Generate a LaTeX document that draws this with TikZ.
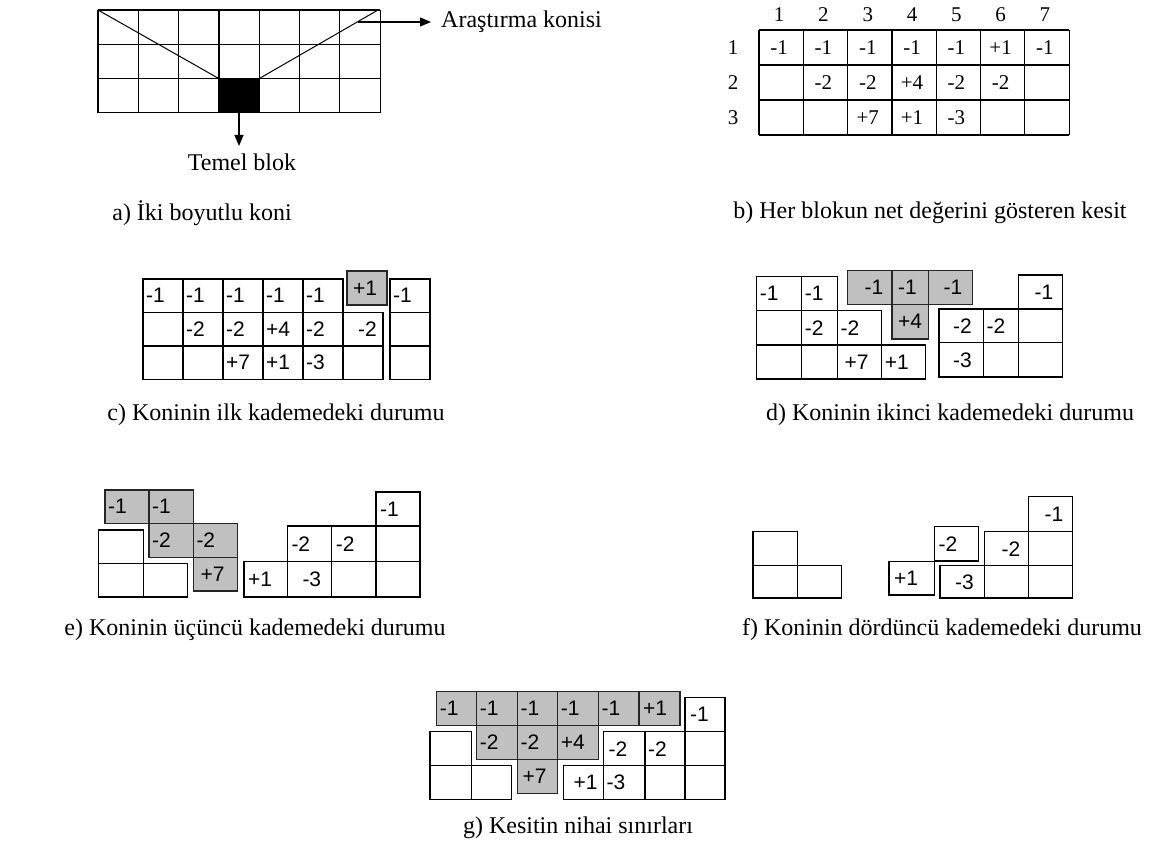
\documentclass[tikz,border=0pt]{standalone}
\usepackage{fontspec}
\setmainfont{Liberation Serif}
\newfontfamily\cellfont{Liberation Sans}
\usetikzlibrary{arrows.meta}
\definecolor{cellgrey}{HTML}{C0C0C0}
\newcommand\whitecell[6]{\draw[cl,fill=white] ({#1},{#2}) rectangle ({#3},{#4});
  \node[num] at ({#1+#6},{(#2+#4)/2}) {#5};}
\newcommand\greycell[6]{\draw[gcl] ({#1},{#2}) rectangle ({#3},{#4});
  \node[num] at ({#1+#6},{(#2+#4)/2}) {#5};}
\begin{document}
\begin{tikzpicture}[x=1pt,y=-1pt,
  cl/.style={draw=black,line width=1.2pt},
  gcl/.style={draw=black!85,line width=1.5pt,fill=cellgrey},
  gridline/.style={draw=black,line width=1.2pt},
  num/.style={anchor=west,inner sep=0pt,font=\cellfont\fontsize{21}{21}\selectfont},
  bnum/.style={inner sep=0pt,font=\fontsize{21}{21}\selectfont},
  captxt/.style={inner sep=0pt,font=\fontsize{24}{24}\selectfont},
  lbl/.style={inner sep=0pt,font=\fontsize{24}{24}\selectfont},
  arr/.style={line width=1.2pt,-{Triangle[length=11pt,width=9pt]}}]
\useasboundingbox (0,0) rectangle (1156,858);

% ---------------- a) ----------------
\fill (218.9,78.6) rectangle (259.2,112.9);
\foreach \i in {0,...,7} {\draw[gridline] ({98+\i*40.3},10) -- ({98+\i*40.3},112.9);}
\foreach \j in {0,...,3} {\draw[gridline] (98,{10+\j*34.3}) -- (380.1,{10+\j*34.3});}
\coordinate (tl) at (98,10);
\coordinate (tr) at (378,10);
\coordinate (bl) at (218.9,78.6);
\coordinate (br) at (259.2,78.6);
\draw[line width=1pt] (tl) -- (bl);
\draw[line width=1pt] (br) -- (tr);
\coordinate (ap) at (358.3,22);
\node[lbl,anchor=west] (cone) at (441,22) {Araştırma konisi};
\draw[arr,shorten >=10pt] (ap) -- (cone.west);
\coordinate (bb) at (239,112.9);
\coordinate (bt) at (239,146);
\node[lbl] (base) at (242,162) {Temel blok};
\draw[arr] (bb) -- (bt);
\node[captxt] (capa) at (202,213) {a) İki boyutlu koni};

% ---------------- b) ----------------
\foreach \k in {1,...,7} {\node[bnum] at ({759+44.3*(\k-0.5)-2},15) {\k};}
\foreach \r in {1,2,3} {\node[bnum] at (733,{30+35*(\r-0.5)}) {\r};}
\foreach \i in {0,...,7} {\draw[gridline] ({759+\i*44.3},30) -- ({759+\i*44.3},135);}
\foreach \j in {0,...,3} {\draw[gridline] (759,{30+\j*35}) -- (1069.1,{30+\j*35});}
\foreach \c/\v in {1/-1,2/-1,3/-1,4/-1,5/-1,6/+1,7/-1}
  {\node[bnum] at ({759+44.3*(\c-0.5)-2},48) {\v};}
\foreach \c/\v in {2/-2,3/-2,4/+4,5/-2,6/-2}
  {\node[bnum] at ({759+44.3*(\c-0.5)-2},83) {\v};}
\foreach \c/\v in {3/+7,4/+1,5/-3}
  {\node[bnum] at ({759+44.3*(\c-0.5)-2},118) {\v};}
\node[captxt] (capb) at (930,213) {b) Her blokun net değerini gösteren kesit};

% ---------------- c) ----------------
\foreach \c in {1,...,5}
  {\whitecell{143+40*(\c-1)}{279}{143+40*\c}{312.5}{-1}{3}}
\whitecell{143}{312.5}{183}{346}{}{0}
\whitecell{183}{312.5}{223}{346}{-2}{3}
\whitecell{223}{312.5}{263}{346}{-2}{3}
\whitecell{263}{312.5}{303}{346}{+4}{3}
\whitecell{303}{312.5}{343}{346}{-2}{3}
\whitecell{343}{312.5}{383}{346}{-2}{15}
\whitecell{143}{346}{183}{379.5}{}{0}
\whitecell{183}{346}{223}{379.5}{}{0}
\whitecell{223}{346}{263}{379.5}{+7}{3}
\whitecell{263}{346}{303}{379.5}{+1}{3}
\whitecell{303}{346}{343}{379.5}{-3}{3}
\whitecell{343}{346}{383}{379.5}{}{0}
\greycell{347}{271}{387}{305}{+1}{6}
\whitecell{390}{279}{430}{312.5}{-1}{3}
\whitecell{390}{312.5}{430}{346}{}{0}
\whitecell{390}{346}{430}{379.5}{}{0}
\node[captxt] (capc) at (276,415) {c) Koninin ilk kademedeki durumu};

% ---------------- d) ----------------
\whitecell{756.7}{276.7}{801.7}{310.5}{-1}{3}
\whitecell{801.7}{276.7}{837.5}{310.5}{-1}{3}
\whitecell{756.7}{310.5}{801.7}{345}{}{0}
\whitecell{801.7}{310.5}{837.5}{345}{-2}{3}
\whitecell{837.5}{310.5}{881.7}{345}{-2}{3}
\whitecell{756.7}{345}{801.7}{379}{}{0}
\whitecell{801.7}{345}{837.5}{379}{}{0}
\whitecell{837.5}{345}{881.7}{379}{+7}{7}
\whitecell{881.7}{345}{925.7}{379}{+1}{3}
\greycell{847.3}{270.5}{892}{304.5}{-1}{17}
\greycell{892}{270.5}{928.5}{304.5}{-1}{6}
\greycell{928.5}{270.5}{972.7}{304.5}{-1}{15}
\greycell{892}{304.5}{928.5}{339}{+4}{6}
\whitecell{1018.3}{275}{1062.7}{309}{-1}{16}
\whitecell{939}{309}{983.3}{342.7}{-2}{14}
\whitecell{983.3}{309}{1018.3}{342.7}{-2}{3}
\whitecell{1018.3}{309}{1062.7}{342.7}{}{0}
\whitecell{939}{342.7}{983.3}{377}{-3}{14}
\whitecell{983.3}{342.7}{1018.3}{377}{}{0}
\whitecell{1018.3}{342.7}{1062.7}{377}{}{0}
\node[captxt] (capd) at (950,415) {d) Koninin ikinci kademedeki durumu};

% ---------------- e) ----------------
\greycell{105}{490}{149}{523.5}{-1}{3}
\greycell{149}{490}{193.3}{523.5}{-1}{3}
\greycell{149}{523.5}{193.3}{557.3}{-2}{3}
\greycell{193.3}{523.5}{237.7}{557.3}{-2}{3}
\greycell{193.3}{557.3}{237.7}{591}{+7}{7}
\whitecell{98.3}{530}{143.3}{563.5}{}{0}
\whitecell{98.3}{563.5}{143.3}{597}{}{0}
\whitecell{143.3}{563.5}{187.3}{597}{}{0}
\whitecell{376}{492}{420}{526}{-1}{4}
\whitecell{287.3}{526}{331.7}{561.5}{-2}{4}
\whitecell{331.7}{526}{376}{561.5}{-2}{4}
\whitecell{376}{526}{420}{561.5}{}{0}
\whitecell{244}{561.5}{287.3}{597}{+1}{4}
\whitecell{287.3}{561.5}{331.7}{597}{-3}{15}
\whitecell{331.7}{561.5}{376}{597}{}{0}
\whitecell{376}{561.5}{420}{597}{}{0}
\node[captxt] (cape) at (255,630) {e) Koninin üçüncü kademedeki durumu};

% ---------------- f) ----------------
\whitecell{753}{531.7}{797.7}{565.7}{}{0}
\whitecell{753}{565.7}{797.7}{598}{}{0}
\whitecell{797.7}{565.7}{841.7}{598}{}{0}
\whitecell{889}{561.5}{934.3}{595}{+1}{5}
\whitecell{934.3}{526.7}{978.3}{561}{-2}{4}
\whitecell{984.3}{531.7}{1028.3}{565.7}{-2}{17}
\whitecell{1028.3}{496.7}{1072.3}{531.7}{-1}{16}
\whitecell{1028.3}{531.7}{1072.3}{565.7}{}{0}
\whitecell{940}{565.7}{984.3}{598}{-3}{15}
\whitecell{984.3}{565.7}{1028.3}{598}{}{0}
\whitecell{1028.3}{565.7}{1072.3}{598}{}{0}
\node[captxt] (capf) at (942,630) {f) Koninin dördüncü kademedeki durumu};

% ---------------- g) ----------------
\whitecell{430}{731.7}{471.7}{765.7}{}{0}
\whitecell{430}{765.7}{471.7}{799.7}{}{0}
\whitecell{471.7}{765.7}{511.7}{799.7}{}{0}
\greycell{436.7}{691.7}{476.7}{725.7}{-1}{3}
\greycell{476.7}{691.7}{517.3}{725.7}{-1}{3}
\greycell{517.3}{691.7}{557.7}{725.7}{-1}{3}
\greycell{557.7}{691.7}{598.3}{725.7}{-1}{3}
\greycell{598.3}{691.7}{639}{725.7}{-1}{3}
\greycell{639}{691.7}{680}{725.7}{+1}{4}
\greycell{476.7}{725.7}{517.3}{759.5}{-2}{3}
\greycell{517.3}{725.7}{557.7}{759.5}{-2}{3}
\greycell{557.7}{725.7}{598.3}{759.5}{+4}{3}
\greycell{517.3}{759.5}{557.7}{793.3}{+7}{5}
\whitecell{685}{697.3}{725}{731.7}{-1}{5}
\whitecell{685}{731.7}{725}{765.7}{}{0}
\whitecell{685}{765.7}{725}{799.7}{}{0}
\whitecell{603.3}{731.7}{645}{765.7}{-2}{5}
\whitecell{645}{731.7}{685}{765.7}{-2}{3}
\whitecell{563.3}{765.7}{603.3}{799.7}{+1}{10}
\whitecell{603.3}{765.7}{645}{799.7}{-3}{3}
\whitecell{645}{765.7}{685}{799.7}{}{0}
\node[captxt] (capg) at (578,828) {g) Kesitin nihai sınırları};
\end{tikzpicture}
\end{document}
